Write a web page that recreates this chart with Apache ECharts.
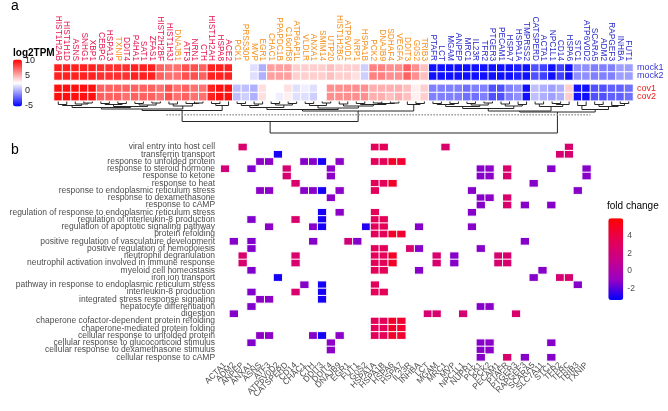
<!DOCTYPE html>
<html><head><meta charset="utf-8">
<script src="https://cdn.jsdelivr.net/npm/echarts@6/dist/echarts.min.js"></script>
<style>html,body{margin:0;padding:0;background:#fff}#c{width:668px;height:411px}</style>
</head><body><div id="c"></div>
<script>
// ---------- panel a : heatmap ----------
const heatGenes = ['HIST1H2AB','HIST1H1D','ASNS','SNHG1','XBP1','CEBPG','HSPA13','TXNIP','DDIT4','P4HA1','SAT1','ZFAS1','HIST2H2BF','HIST1H3J','DNAJB1','ATF3','NRN1','CTH','HIST1H2AH','HSPA8','ACE2',
 'PCK1','PRSS30P','MVP','EGR1','CHAC1','PPAPDC1B','C16orf58','ATP6AP1L','VLDLR','ANXA1','SMIM14','UTP20','HIST1H2BG','ATP6V0D1','NRP1','HSPA1B','PCK2','DNAJB9','SDHAF4','VEGFA','DDIT3','G0S2','TRIB3',
 'PTAFR','LCT','MGAM','ANPEP','MRC1','IL23R','TFR2','PTGER3','PECAM1','HSPA7','HSPA1A','TMPRSS2','CATSPERD','ACTA1','NPC1L1','CD14','HSPA6','STC1','ATP6V0D2','SCARA5','ADM2','RAPGEF3','INHBA','FUT1'];
// gene label group: r = red, o = orange, b = blue
const heatGroup = ('rrrrrrrorrrrrrorrrrrr' + 'ooooooooooooooooooooooo' + 'bbbbbbbbbbbbbbbbbbbbbbbb').split('');
const mockRows = ['mock1','mock2'];
const covRows = ['cov1','cov2'];
const mock1 = [9.5,9.5,9.5,9.5,9.5,9,9,9,9,9.5,9.5,9.5,7.5,7,7,8,8,7.5,9.5,9.5,9.5,
 2.5,2.5,1.5,0,5.5,5.5,5.5,4,4,4,4,4.5,4,4,4,1,6.5,6.5,6,6,7.5,6,4.5,
 -5,-5,-5,-5,-5,-5,-5,-5,-5,-5,-4.5,-5,-3,-3.5,-5,-3.5,-5,-1,-1,-1.5,-1.5,-1.5,-0.5,-0.5];
const mock2 = [9.5,9.5,9.5,9.5,9.5,9,9,9,9,9.5,9.5,9.5,7.5,7,7,8,8,7.5,9.5,9.5,9.5,
 2.5,2.5,1.5,0,5.5,5.5,5.5,4,4,4,4,4.5,4,4,3.5,1,6.5,6.5,6,6,7.5,6,4.5,
 -5,-5,-5,-5,-5,-5,-5,-5,-5,-5,-4.5,-5,-3,-3.5,-5,-3.5,-5,-1,-1,-1.5,-1.5,-1.5,-0.5,-0.5];
const cov1 = [10,10,10,10,10,7.5,7.5,7.5,7.5,7.5,7.5,7.5,7,8,7,7.5,7,7,9.5,10,10,
 0.5,0.5,0,3.5,2.5,2.5,3.5,1.5,2,1.5,2.5,6,6,6,6,6,5,5,5,5,4.5,3,4,
 -1.5,-1.5,-1.5,-1.5,-2,-1.5,-1.5,-3,-3,-1.5,-1,-5,0.5,0,-0.5,0,4,-5,-5,-3,-3,-2.5,-2.5,-2];
const cov2 = [10,10,10,10,10,7.5,7.5,7.5,7,7.5,7.5,7.5,7,8,7,7.5,7,7,9.5,10,10,
 0.5,1,0,3.5,2.5,2,3,1.5,1.5,1,2.5,6,6,6,6,6,5,5,4.5,5,4.5,3,4,
 -1.5,-1.5,-1.5,-1.5,-2,-2,-1.5,-3,-3,-1.5,-1,-5,0.5,0,-0.5,0,4,-5,-5,-3,-3,-2.5,-2.5,-2];
const heatTicks = [-5,0,5,10];
const heatRange = [-5.5,10.5];

// dendrogram: [height, left, right], leaves = column numbers (1-based)
const dendroRed = [9, [7.5, [6, [4, [3,1,2], [2.5,3,[1.5,4,5]]], [5, [3,[2,6,7],[2,8,9]], [3.5,[2,10,11],[1.5,12,13]]]], [4.5,[2.5,14,15],[2,16,[1.5,17,18]]]], [4,[2,19,20],21]];
const dendroOrange = [9.5, [8, [6, [4,[2,22,23],[2.5,24,25]], [3.5,[2,26,27],[2,28,29]]], [6.5, [4,[2,30,31],[1.5,32,33]], [4.5,[2.5,34,35],[3,[2,36,37],[2,[1.5,38,39],[1.5,40,41]]]]]], [3,42,[2,43,44]]];
const dendroBlue = [10.5, [9.5, [7, [5,[3,[2,45,46],[2,47,48]],[3.5,[2,49,50],[1.5,51,52]]], [4.5,[2.5,53,54],[3,55,56]]], [5,[2.5,57,58],[3,[2,59,60],61]]], [8,[4,62,63],[5,[3,64,65],[4,66,[2,67,68]]]]];
const dendroRoot = [31.5, [20, dendroRed, dendroOrange], dendroBlue];
const cutHeight = 13.2;
const cutSpan = [13.7, 63.5];

// ---------- panel b : GO terms ----------
const goTerms = ['viral entry into host cell','transferrin transport','response to unfolded protein','response to steroid hormone','response to ketone','response to heat','response to endoplasmic reticulum stress','response to dexamethasone','response to cAMP','regulation of response to endoplasmic reticulum stress','regulation of interleukin-8 production','regulation of apoptotic signaling pathway','protein refolding','positive regulation of vasculature development','positive regulation of hemopoiesis','neutrophil degranulation','neutrophil activation involved in immune response','myeloid cell homeostasis','iron ion transport','pathway in response to endoplasmic reticulum stress','interleukin-8 production','integrated stress response signaling','hepatocyte differentiation','digestion','chaperone cofactor-dependent protein refolding','chaperone-mediated protein folding','cellular response to unfolded protein','cellular response to glucocorticoid stimulus','cellular response to dexamethasone stimulus','cellular response to cAMP'];
const goGenes = ['ACTA1','ADM2','ANPEP','ANXA1','ASNS','ATF3','ATP6V0D2','CATSPERD','CD14','CHAC1','CTH','DDIT3','DDIT4','DNAJB9','EGR1','FUT1','G0S2','HSPA1A','HSPA1B','HSPA6','HSPA7','IL23R','INHBA','LCT','MGAM','MRC1','MVP','NPC1L1','NUPR1','PCK1','PCK2','PECAM1','PTAFR','PTGER3','RAPGEF3','SCARA5','SLC7A11','STC1','TFR2','TFRC','TRIB3','TXNIP'];
const foldChange = [2.0,-1.3,2.5,-1.4,-1.2,-1.2,-3.0,2.3,2.5,-1.3,-1.3,-3.0,-1.2,-1.2,2.0,-1.3,-2.8,3.2,3.3,4.8,4.6,2.5,-1.3,2.3,2.5,2.5,-1.3,2.3,-1.3,-1.3,-1.2,2.3,2.5,2.5,-1.3,-1.3,-1.3,-1.3,2.3,2.5,-1.3,-1.3];
const termGenes = [
 ['ANPEP','HSPA1A','HSPA1B','MRC1','TFRC'],
 ['ATP6V0D2','TFR2','TFRC'],
 ['ASNS','ATF3','CHAC1','CTH','DDIT3','DNAJB9','HSPA1A','HSPA1B','HSPA6','HSPA7'],
 ['ACTA1','ANXA1','CATSPERD','DDIT4','PCK1','PCK2','PTAFR','STC1','TXNIP'],
 ['CATSPERD','DDIT4','PCK1','PCK2','PTAFR','TXNIP'],
 ['CD14','HSPA1A','HSPA1B','HSPA6','SCARA5'],
 ['ASNS','ATF3','CHAC1','CTH','DDIT3','DNAJB9','HSPA1A','NUPR1','TRIB3'],
 ['DDIT4','PCK1','PCK2','PTAFR'],
 ['PCK1','PTAFR','RAPGEF3','STC1'],
 ['DDIT3','DNAJB9','HSPA1A','NUPR1'],
 ['ANXA1','CD14','DDIT3','HSPA1A','HSPA1B'],
 ['ATF3','CTH','DDIT3','G0S2','HSPA1A','HSPA1B','INHBA','NUPR1'],
 ['HSPA1A','HSPA1B','HSPA6','HSPA7'],
 ['ADM2','ANXA1','CTH','EGR1','FUT1','RAPGEF3'],
 ['ANXA1','HSPA1A','HSPA1B','IL23R','INHBA','PCK1'],
 ['ANPEP','CD14','HSPA1A','HSPA1B','HSPA6','MGAM','MVP','PECAM1','PTAFR'],
 ['ANPEP','CD14','HSPA1A','HSPA1B','HSPA6','MGAM','MVP','PECAM1','PTAFR'],
 ['ANXA1','HSPA1A','HSPA1B','INHBA','SLC7A11'],
 ['ATP6V0D2','SCARA5','TFR2','TFRC'],
 ['CHAC1','DDIT3','HSPA1A','TRIB3'],
 ['ANXA1','CD14','DDIT3','HSPA1A','HSPA1B'],
 ['ASNS','ATF3','DDIT3'],
 ['ANXA1','PCK1','PCK2'],
 ['ADM2','LCT','MGAM','NPC1L1','PTGER3'],
 ['HSPA1A','HSPA1B','HSPA6','HSPA7'],
 ['HSPA1A','HSPA1B','HSPA6','HSPA7'],
 ['ASNS','ATF3','CTH','DDIT3','DNAJB9','HSPA1A','HSPA1B','HSPA6','HSPA7'],
 ['ANXA1','DDIT4','PCK1','PCK2','STC1'],
 ['DDIT4','PCK1','PCK2'],
 ['PCK1','PTAFR','RAPGEF3','STC1']
];
const fcTicks = [-2,0,2,4];
const fcRange = [-3.34,6.03];

// ---------- build ----------
const FONT = '"Liberation Sans", Arial, sans-serif';
const groupColor = {r:'#e5164d', o:'#f5901e', b:'#2a2ac8'};
const mockData = [], covData = [];
heatGenes.forEach((g,i)=>{
  mockData.push([i,0,mock1[i]]); mockData.push([i,1,mock2[i]]);
  covData.push([i,0,cov1[i]]); covData.push([i,1,cov2[i]]);
});
const segs = [];
function walk(n){
  if (typeof n === 'number') return {x:n, h:0};
  const L = walk(n[1]), R = walk(n[2]);
  segs.push({coords:[[L.x,L.h],[L.x,n[0]],[R.x,n[0]],[R.x,R.h]]});
  return {x:(L.x+R.x)/2, h:n[0]};
}
walk(dendroRoot);
const goData = [];
termGenes.forEach((list,t)=>{
  list.forEach(g=>{ const gi = goGenes.indexOf(g); goData.push([gi,t,foldChange[gi]]); });
});

const hidden = {show:false};
const option = {
  animation:false,
  textStyle:{fontFamily:FONT},
  grid:[
    {left:54, top:64, width:579, height:16},
    {left:54, top:84.3, width:579, height:16.4},
    {left:54, top:101.5, width:579, height:32},
    {left:13, top:59.5, width:9, height:47},
    {left:220.6, top:143.4, width:370.4, height:217.5},
    {left:608.3, top:218.3, width:15, height:81.7}
  ],
  xAxis:[
    {type:'category', gridIndex:0, data:heatGenes, position:'top', axisLine:hidden, axisTick:hidden,
     axisLabel:{interval:0, rotate:90, fontSize:8.3, margin:3, fontFamily:FONT,
       color:(v,i)=>groupColor[heatGroup[heatGenes.indexOf(v)]]}},
    {type:'category', gridIndex:1, data:heatGenes, show:false},
    {type:'value', gridIndex:2, min:0.5, max:68.5, show:false},
    {type:'value', gridIndex:3, min:0, max:1, show:false},
    {type:'category', gridIndex:4, data:goGenes, axisLine:hidden, axisTick:hidden, splitLine:hidden,
     axisLabel:{interval:0, rotate:45, fontSize:8.4, margin:3, color:'#4d4d4d', fontFamily:FONT}},
    {type:'value', gridIndex:5, min:0, max:1, show:false}
  ],
  yAxis:[
    {type:'category', gridIndex:0, data:mockRows, inverse:true, position:'right', axisLine:hidden, axisTick:hidden,
     axisLabel:{interval:0, fontSize:9, margin:4, color:'#3434d2', fontFamily:FONT}},
    {type:'category', gridIndex:1, data:covRows, inverse:true, position:'right', axisLine:hidden, axisTick:hidden,
     axisLabel:{interval:0, fontSize:9, margin:4, color:'#ef1a1a', fontFamily:FONT}},
    {type:'value', gridIndex:2, min:0, max:32, inverse:true, show:false},
    {type:'value', gridIndex:3, min:heatRange[0], max:heatRange[1], position:'right', axisLine:hidden, splitLine:hidden,
     axisTick:{show:false},
     axisLabel:{customValues:heatTicks, fontSize:9, margin:3, color:'#222', fontFamily:FONT}},
    {type:'category', gridIndex:4, data:goTerms, inverse:true, axisLine:hidden, axisTick:hidden, splitLine:hidden,
     axisLabel:{interval:0, fontSize:8.5, margin:5.5, color:'#4d4d4d', fontFamily:FONT}},
    {type:'value', gridIndex:5, min:fcRange[0], max:fcRange[1], position:'right', axisLine:hidden, splitLine:hidden,
     axisTick:{show:true, inside:true, length:3, customValues:fcTicks, lineStyle:{color:'#fff', width:1}},
     axisLabel:{customValues:fcTicks, fontSize:8.5, margin:4, color:'#4d4d4d', fontFamily:FONT}},
    {type:'value', gridIndex:5, min:fcRange[0], max:fcRange[1], position:'left', axisLine:hidden, splitLine:hidden,
     axisTick:{show:true, inside:true, length:3, customValues:fcTicks, lineStyle:{color:'#fff', width:1}},
     axisLabel:{show:false}}
  ],
  visualMap:[
    {type:'continuous', seriesIndex:[0,1], min:heatRange[0], max:heatRange[1], calculable:false, show:true,
     orient:'vertical', left:13, top:59.5, itemWidth:9, itemHeight:47, padding:0, text:null, showLabel:false,
     inRange:{color:['#0000ff','#ffffff','#ff0000']}},
    {type:'continuous', seriesIndex:[4], min:fcRange[0], max:fcRange[1], calculable:false, show:true,
     orient:'vertical', left:608.3, top:218.3, itemWidth:15, itemHeight:81.7, padding:0, text:null,
     inRange:{color:['#0000ff','#9a00c2','#c90088','#e8004f','#ff0000']}}
  ],
  graphic:[
    {type:'text', left:11, top:-1, style:{text:'a', font:'14px '+FONT, fill:'#000'}},
    {type:'text', left:11, top:143.5, style:{text:'b', font:'14px '+FONT, fill:'#000'}},
    {type:'text', left:13, top:48.5, style:{text:'log2TPM', font:'bold 10px '+FONT, fill:'#000'}},
    {type:'text', left:607, top:201.3, style:{text:'fold change', font:'10px '+FONT, fill:'#000'}}
  ],
  series:[
    {type:'heatmap', xAxisIndex:0, yAxisIndex:0, data:mockData, silent:true,
     itemStyle:{borderColor:'#fff', borderWidth:1}},
    {type:'heatmap', xAxisIndex:1, yAxisIndex:1, data:covData, silent:true,
     itemStyle:{borderColor:'#fff', borderWidth:1}},
    {type:'lines', coordinateSystem:'cartesian2d', xAxisIndex:2, yAxisIndex:2, polyline:true, silent:true,
     data:segs, lineStyle:{color:'#262626', width:1, opacity:1}},
    {type:'lines', coordinateSystem:'cartesian2d', xAxisIndex:2, yAxisIndex:2, polyline:true, silent:true,
     data:[{coords:[[cutSpan[0],cutHeight],[cutSpan[1],cutHeight]]}],
     lineStyle:{color:'#999', width:1.5, type:'dotted', opacity:1}},
    {type:'heatmap', xAxisIndex:4, yAxisIndex:4, data:goData, silent:true,
     itemStyle:{borderColor:'#fff', borderWidth:1}}
  ]
};
const chart = echarts.init(document.getElementById('c'));
chart.setOption(option);
</script>
</body></html>
